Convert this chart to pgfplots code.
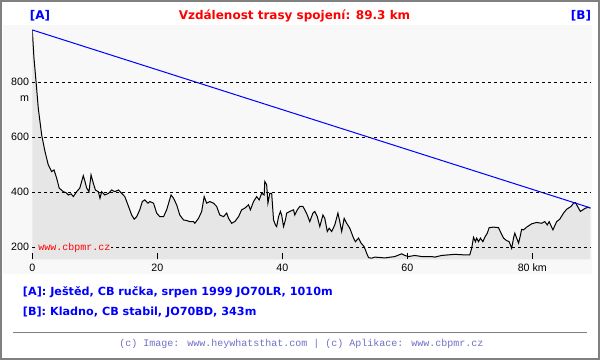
\documentclass[border=0pt]{standalone}
\usepackage{fontspec}
\usepackage{pgfplots}
\usepackage{pgfplotstable}
\pgfplotsset{compat=1.18}
\setmainfont{DejaVu Sans}
\newfontfamily\tickfont{Liberation Sans}
\newfontfamily\monofont{Liberation Mono}
\definecolor{bgplot}{HTML}{F8F8F8}
\definecolor{fillgray}{HTML}{E6E6E6}
\definecolor{framegray}{HTML}{808080}
\definecolor{footcol}{HTML}{7070C8}
\definecolor{tblue}{HTML}{0000FF}
\definecolor{tred}{HTML}{FF0000}
\pgfplotstableread{
km m
0 990
0.27 887
0.6 802
0.96 705
1.5 608
2.03 548
2.56 499
3.1 475
3.47 481
3.9 451
4.3 415
4.96 402
5.4 398
5.76 390
6.2 394
6.56 384
7.1 402
7.6 415
8.16 460
8.43 439
8.7 415
9.07 402
9.4 463
9.76 433
10.1 408
10.56 402
10.83 378
11.1 402
11.6 390
12.2 396
12.7 408
13.2 402
13.8 408
14.3 396
14.8 384
15.4 348
15.9 317
16.3 302
16.7 311
17.2 336
17.6 366
18.0 372
18.5 360
18.8 366
19.4 360
19.9 324
20.4 311
21.0 311
21.5 336
22.2 390
22.6 378
23.1 354
23.6 317
24.2 299
24.7 297
25.2 293
25.8 293
26.0 287
26.6 305
27.1 330
27.5 384
27.9 360
28.4 366
29.0 360
29.5 348
30.0 317
30.6 311
31.1 324
31.4 305
31.9 287
32.4 293
33.0 311
33.5 336
34.0 342
34.6 354
34.9 336
35.4 366
35.9 384
36.3 372
36.7 396
37.1 390
37.2 439
37.5 427
37.7 360
38.0 396
38.3 396
38.6 299
38.9 281
39.1 275
39.4 311
39.7 330
39.9 317
40.2 275
40.5 299
40.7 324
41.2 330
41.8 336
42.0 317
42.4 336
42.8 348
43.3 348
43.6 336
44.0 317
44.4 293
44.9 324
45.2 330
45.6 311
46.0 275
46.5 317
46.8 305
47.2 257
47.5 269
47.9 257
48.4 281
48.9 324
49.2 293
49.5 257
49.9 305
50.3 287
50.8 269
51.4 233
51.7 220
52.2 233
52.6 215
53.1 202
53.5 178
53.8 162
54.3 160
54.8 164
56.4 161
58.0 166
59.1 176
59.6 170
60.2 166
61.2 170
62.3 166
63.9 166
64.4 164
65.5 170
67.6 174
69.2 172
70.0 172
70.3 196
70.6 236
70.9 220
71.1 233
71.4 220
71.7 233
72.1 220
72.4 236
72.8 251
73.1 271
73.8 273
74.6 271
75.0 251
75.4 233
75.9 224
76.3 220
76.7 196
77.0 233
77.2 251
77.5 233
77.8 215
78.0 233
78.3 265
78.6 263
79.1 273
79.9 285
80.7 290
81.5 287
82.0 293
82.4 281
82.7 293
83.3 263
83.9 293
84.4 302
85.0 324
85.5 338
86.2 348
86.6 360
86.9 362
87.1 354
87.7 330
88.1 336
88.5 342
89.0 345
89.3 342
}\profile

\begin{document}
\begin{tikzpicture}
\path[use as bounding box] (0,0) rectangle (450pt,270pt);
\begin{scope}[x=0.75pt,y=-0.75pt,shift={(0pt,270pt)}]
\fill[white] (0,0) rectangle (600,360);
\fill[bgplot] (3,25) rectangle (592,274.5);
\end{scope}
\begin{axis}[
  at={(24.225pt,75.525pt)}, anchor=south west,
  scale only axis, width=418.575pt, height=175.725pt,
  xmin=0, xmax=89.3, ymin=156, ymax=1008,
  axis line style={draw=none},
  no markers,
  xtick={0,20,40,60,80}, xticklabels={0,20,40,60,80 km},
  ytick={200,400,600,800},
  tick pos=left, tick align=inside,
  major tick length=4.5pt,
  xtick style={black, line width=0.75pt},
  ytick style={draw=none},
  ymajorgrids,
  major grid style={black, line width=0.75pt, dash pattern=on 2.25pt off 2.25pt},
  axis on top,
  /pgf/number format/assume math mode=true,
  tick label style={font=\tickfont\fontsize{8}{9.5}\selectfont, inner sep=0pt},
  xticklabel style={yshift=-3pt},
  yticklabel style={xshift=-2.25pt},
]
\addplot[fill=fillgray, draw=none] table[x=km,y=m]{\profile} \closedcycle;
\addplot[black, line width=0.75pt] table[x=km,y=m]{\profile};
\addplot[tblue, line width=0.75pt] coordinates {(0,990) (89.3,343)};
\end{axis}
\begin{scope}[x=0.75pt,y=-0.75pt,shift={(0pt,270pt)}]
\node[anchor=base, font=\bfseries\fontsize{9}{11}\selectfont, text=tred, inner sep=0] at (294.5,19.5) {Vzdálenost trasy spojení: 89.3 km};
\node[anchor=base, font=\bfseries\fontsize{9}{11}\selectfont, text=tblue, inner sep=0] at (40,19.5) {[A]};
\node[anchor=base, font=\bfseries\fontsize{9}{11}\selectfont, text=tblue, inner sep=0] at (581,19.5) {[B]};
\node[anchor=base west, font=\bfseries\fontsize{8.4}{10}\selectfont, text=tblue, inner sep=0] at (22.7,295.3) {[A]: Ještěd, CB ručka, srpen 1999 JO70LR, 1010m};
\node[anchor=base west, font=\bfseries\fontsize{8.4}{10}\selectfont, text=tblue, inner sep=0] at (22.7,315.8) {[B]: Kladno, CB stabil, JO70BD, 343m};
\draw[framegray, line width=1.125pt] (13.3,332.3) -- (586.7,332.3);
\node[anchor=base, font=\monofont\fontsize{7.5}{9}\selectfont, text=footcol, inner sep=0] at (301.3,346.5) {(c) Image: www.heywhatsthat.com | (c) Aplikace: www.cbpmr.cz};
\node[anchor=base west, font=\monofont\fontsize{7.5}{9}\selectfont, text=tred, fill=fillgray, inner sep=0.75pt] at (37,251) {www.cbpmr.cz};
\node[anchor=base east, font=\tickfont\fontsize{8}{9.5}\selectfont, inner sep=0] at (29.3,101.7) {m};
\draw[framegray, line width=1.5pt] (1,1) rectangle (599,359);
\end{scope}
\end{tikzpicture}
\end{document}
